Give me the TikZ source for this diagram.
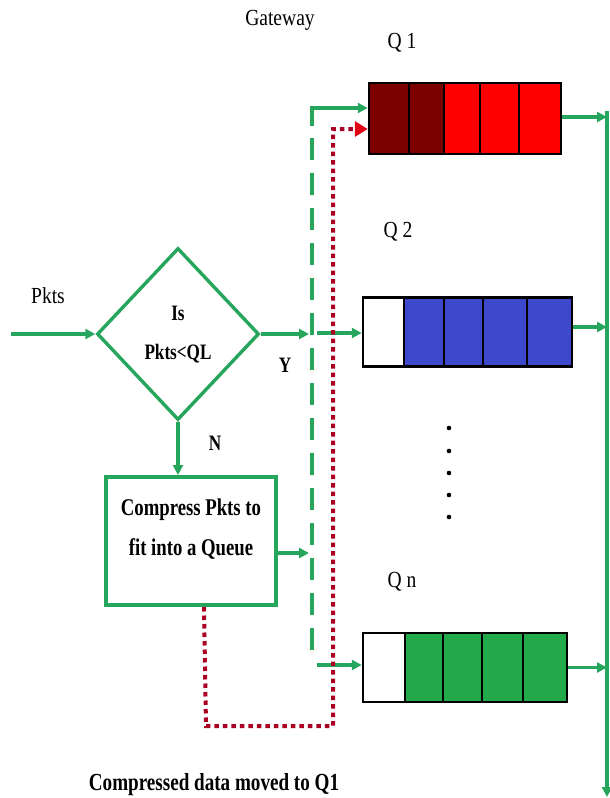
\documentclass[tikz,border=0pt]{standalone}
\usepackage{fontspec}
\setmainfont{Liberation Serif}
\newfontfamily\lblfont[FakeStretch=0.85]{Liberation Serif}
\newfontfamily\bldfont[FakeStretch=0.78]{Liberation Serif}
\usetikzlibrary{shapes.geometric,arrows.meta}

\definecolor{flowgreen}{RGB}{38,166,92}
\definecolor{cellgreen}{RGB}{34,170,74}
\definecolor{cellblue}{RGB}{62,72,204}
\definecolor{cellred}{RGB}{255,0,0}
\definecolor{celldark}{RGB}{125,0,0}
\definecolor{movered}{RGB}{170,0,35}
\definecolor{tipred}{RGB}{225,0,20}

\tikzset{
  flow/.style={draw=flowgreen, line width=3.2pt},
  flowarrow/.style={flow, -{Triangle[length=10pt,width=10pt]}},
  busline/.style={flow, dash pattern=on 22pt off 13pt},
  moved/.style={draw=movered, line width=4pt, dash pattern=on 4.5pt off 4pt,
    -{Triangle[length=13pt,width=15pt,color=tipred]}},
  queue/.style={draw=black, line width=2.5pt, inner sep=0pt},
  divider/.style={draw=black, line width=2pt},
  lbl/.style={font=\lblfont\fontsize{23}{27}\selectfont, anchor=base, inner sep=0pt},
  bld/.style={font=\bldfont\bfseries\fontsize{22}{26}\selectfont, anchor=base, inner sep=0pt},
  boxtxt/.style={font=\bldfont\bfseries\fontsize{24}{29}\selectfont, anchor=base, inner sep=0pt},
  vdot/.style={circle, fill=black, inner sep=0pt, minimum size=4.6pt},
}

\begin{document}
\begin{tikzpicture}[x=1pt,y=-1pt]
\useasboundingbox (0,0) rectangle (610,798);

% ---- queue Q1 ----
\fill[celldark] (369,83) rectangle (444,154);
\fill[cellred]  (444,83) rectangle (561,154);
\draw[divider] (409,83) -- (409,154) (444,83) -- (444,154)
               (480,83) -- (480,154) (519,83) -- (519,154);
\node[queue, minimum width=192pt, minimum height=71pt] (q1) at (465,118.5) {};

% ---- queue Q2 ----
\fill[white]    (363,297.5) rectangle (404,366.5);
\fill[cellblue] (404,297.5) rectangle (572,366.5);
\draw[divider] (404,297.5) -- (404,366.5) (444,297.5) -- (444,366.5)
               (483,297.5) -- (483,366.5) (527,297.5) -- (527,366.5);
\node[queue, minimum width=209pt, minimum height=69pt] (q2) at (467.5,332) {};

% ---- queue Qn ----
\fill[white]     (363,633) rectangle (405,702);
\fill[cellgreen] (405,633) rectangle (567,702);
\draw[divider] (405,633) -- (405,702) (443,633) -- (443,702)
               (482,633) -- (482,702) (523,633) -- (523,702);
\node[queue, minimum width=204pt, minimum height=69pt] (qn) at (465,667.5) {};

% ---- labels ----
\node[lbl] (gw)   at (280,25)  {Gateway};
\node[lbl] (lq1)  at (402,48)  {Q 1};
\node[lbl] (lq2)  at (398,237) {Q 2};
\node[lbl] (lqn)  at (402,587) {Q n};
\node[lbl] (pk)   at (48,303)  {Pkts};

% ---- decision ----
\node[diamond, draw=flowgreen, line width=3.4pt, minimum width=162pt,
      minimum height=172pt, inner sep=0pt] (dec) at (178,334) {};
\node[bld] (is)  at (178,320) {Is};
\node[bld] (cmp) at (178,359) {Pkts<QL};
\node[bld] (yes) at (285,372) {Y};
\node[bld] (no)  at (215,450) {N};

% ---- compression box ----
\node[draw=flowgreen, line width=4pt, minimum width=170pt, minimum height=128pt,
      inner sep=0pt] (comp) at (191,541) {};
\node[boxtxt] (ct1) at (191,515) {Compress Pkts to};
\node[boxtxt] (ct2) at (191,555) {fit into a Queue};

\node[boxtxt, font=\bldfont\bfseries\fontsize{24.5}{29}\selectfont] (note) at (214,790)
  {Compressed data moved to Q1};

% ---- dots between Q2 and Qn ----
\node[vdot] (d1) at (449,428) {};
\node[vdot] (d2) at (449,451) {};
\node[vdot] (d3) at (449,473) {};
\node[vdot] (d4) at (449,495) {};
\node[vdot] (d5) at (449,517) {};

% ---- connectors ----
\coordinate (inStart) at (11,334);
\coordinate (busTop) at (312,108);
\coordinate (busUp)  at (312,126);
\coordinate (busDash) at (312,138);
\coordinate (busBot) at (312,655);
\coordinate (yTip)   at (309,334);
\coordinate (q2Start) at (317,333);
\coordinate (qnStart) at (317,665);
\coordinate (outTop) at (607,111);
\coordinate (outEnd) at (607,797);
\coordinate (mvLow)  at (206,726);
\coordinate (mvCol)  at (333,726);
\coordinate (mvHigh) at (333,129);

\draw[flowarrow, line width=4pt] (inStart) -- (dec.west);
\draw[flowarrow] (dec.east) -- (yTip);
\draw[flowarrow] (q2Start) -- (q2.west |- q2Start);
\draw[flowarrow] (dec.south) -- (dec.south |- comp.north);
\draw[flowarrow] ([yshift=-12pt]comp.east) -- ++(31,0);

\draw[flowarrow] (busUp) -- (busTop) -- (q1.west |- busTop);
\draw[busline] (busDash) -- (busBot);
\draw[flowarrow] (qnStart) -- (qn.west |- qnStart);

\draw[flowarrow] (outTop) -- (outEnd);
\draw[flowarrow] ([yshift=1.5pt]q1.east) -- ([yshift=1.5pt]q1.east -| outTop);
\draw[flowarrow] ([yshift=5pt]q2.east) -- ([yshift=5pt]q2.east -| outTop);
\draw[flowarrow] (qn.east) -- (qn.east -| outTop);

\draw[moved] ([xshift=100pt]comp.south west) -- (mvLow) -- (mvCol) -- (mvHigh)
  -- (q1.west |- mvHigh);
\end{tikzpicture}
\end{document}
